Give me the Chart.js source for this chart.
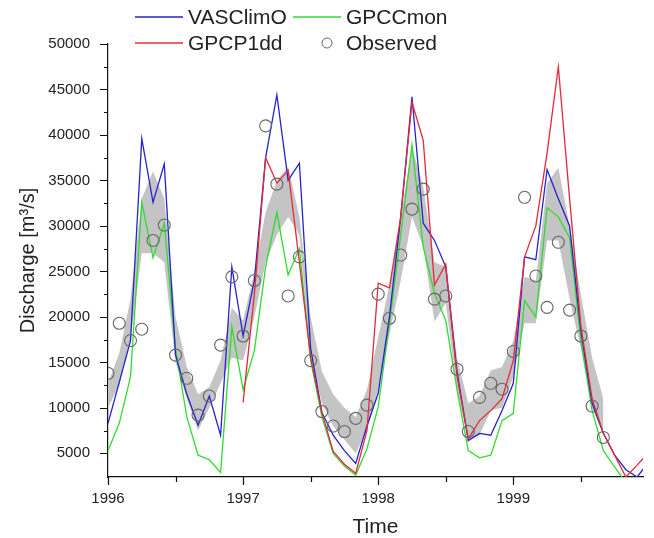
<!DOCTYPE html>
<html>
<head>
<meta charset="utf-8">
<script src="https://cdn.jsdelivr.net/npm/chart.js@4.4.1/dist/chart.umd.min.js"></script>
<style>
  html, body { margin: 0; padding: 0; background: #fff; }
</style>
</head>
<body>
<canvas id="chartCanvas" width="654" height="538"></canvas>
<script>
// monthly time steps, Jan 1996 .. Jan 2000
const startYear = 1996;
const monthCount = 49;
const times = [];
for (let i = 0; i < monthCount; i++) times.push(startYear + i / 12);

// discharge series [m3/s]
const vasclimo = [
  8300, 12800, 17400, 39600, 32600, 36800, 15800, 11500, 8100, 11300, 7000, 25500,
  17900, 24000, 37500, 44400, 35000, 36900, 16500, 9500, 7000, 5300, 3900, 8000,
  11600, 20000, 31000, 44200, 30300, 28400, 25500, 14000, 6400, 7200, 7000, 9700,
  12700, 26600, 26300, 36200, 33000, 30000, 18500, 10500, 7200, 4800, 3200, 2400, 4000
];
const gpccmon = [
  5300, 8300, 13400, 32600, 26500, 30300, 16500, 9000, 4800, 4300, 2900, 18900,
  12000, 16300, 25500, 31500, 24600, 27500, 15200, 9000, 5000, 3600, 2600, 5500,
  10100, 19300, 29000, 38900, 27700, 22600, 19600, 12000, 5300, 4500, 4800, 8600,
  9400, 21800, 20000, 32000, 31000, 28700, 17500, 9700, 5300, 3500, 1800, 1800, 2300
];
const gpcp1dd = [
  null, null, null, null, null, null, null, null, null, null, null, null,
  10600, 22500, 37500, 34700, 36100, 26000, 15500, 9500, 5200, 3800, 2800, 7500,
  23700, 23200, 31000, 43600, 39400, 23500, 25800, 13500, 6600, 8600, 9700, 11000,
  15200, 26600, 30000, 38000, 47500, 33000, 19000, 11000, 7200, 4800, 2400, 3700, 5100
];
const observed = [
  13800, 19300, 17400, 18650, 28400, 30100, 15800, 13250, 9200, 11300, 16900, 24400,
  17900, 24000, 41000, 34600, 22300, 26600, 15200, 9600, 8000, 7400, 8850, 10300,
  22500, 19850, 26800, 31850, 34050, 21950, 22300, 14250, 7400, 11150, 12700, 12050,
  16200, 33150, 24500, 21050, 28200, 20750, 17900, 10200, 6750
];
// grey uncertainty band
const bandLower = [
  10000, 12500, 17500, 27000, 27000, 26000, 15000, 11000, 7500, 10000, 12700, 15500,
  15200, 20000, 26000, 29000, 31000, 29000, 15500, 10500, 8000, 6500, 5000, 7500,
  12000, 18000, 24000, 31000, 27700, 19500, 21500, 12000, 6500, 7000, 9700, 10000,
  13400, 19300, 19300, 28400, 28400, 22000, 16500, 10000, 7000
];
const bandUpper = [
  12700, 16000, 22000, 33000, 36000, 33000, 20000, 14500, 11500, 12300, 15200, 21000,
  19600, 25000, 31500, 35000, 36500, 31000, 20000, 14000, 11500, 10000, 9000, 12000,
  17800, 23500, 31000, 38700, 34300, 26000, 25500, 15500, 10500, 11300, 14100, 14500,
  17400, 24400, 24000, 34700, 36400, 30000, 22500, 15500, 11000
];

// axis ticks
const xMajorTicks = [1996, 1997, 1998, 1999];
const xMinorTicks = [1996.5, 1997.5, 1998.5, 1999.5];
const yMajorTicks = [5000, 10000, 15000, 20000, 25000, 30000, 35000, 40000, 45000, 50000];
const yMinorTicks = [7500, 12500, 17500, 22500, 27500, 32500, 37500, 42500, 47500];

function toPoints(values) {
  return times.map((t, i) => ({ x: t, y: values[i] === undefined ? null : values[i] }));
}

const FONT = "'Liberation Sans', Arial, sans-serif";

// draw the small tick marks on both axes (major + minor)
const tickMarks = {
  id: 'tickMarks',
  afterDraw(chart) {
    const { ctx, chartArea, scales: { x, y } } = chart;
    ctx.save();
    ctx.strokeStyle = '#111';
    ctx.lineWidth = 1.2;
    ctx.beginPath();
    yMajorTicks.forEach(v => {
      const py = Math.round(y.getPixelForValue(v)) + 0.5;
      ctx.moveTo(chartArea.left - 8, py); ctx.lineTo(chartArea.left, py);
    });
    yMinorTicks.forEach(v => {
      const py = Math.round(y.getPixelForValue(v)) + 0.5;
      ctx.moveTo(chartArea.left - 4, py); ctx.lineTo(chartArea.left, py);
    });
    xMajorTicks.forEach(v => {
      const px = Math.round(x.getPixelForValue(v)) + 0.5;
      ctx.moveTo(px, chartArea.bottom); ctx.lineTo(px, chartArea.bottom + 8);
    });
    xMinorTicks.forEach(v => {
      const px = Math.round(x.getPixelForValue(v)) + 0.5;
      ctx.moveTo(px, chartArea.bottom); ctx.lineTo(px, chartArea.bottom + 5);
    });
    ctx.stroke();
    ctx.restore();
  }
};

// two-row legend at the top
const cornerLegend = {
  id: 'cornerLegend',
  afterDraw(chart) {
    const ctx = chart.ctx;
    const slots = { 'VASClimO': [135, 17], 'GPCCmon': [293, 17], 'GPCP1dd': [135, 43], 'Observed': [293, 43] };
    ctx.save();
    ctx.font = '21px ' + FONT;
    ctx.textBaseline = 'middle';
    ctx.textAlign = 'left';
    chart.data.datasets.forEach(ds => {
      const slot = slots[ds.label];
      if (!slot) return;
      const [lx, ly] = slot;
      if (ds.showLine === false) {
        ctx.beginPath();
        ctx.arc(lx + 34, ly, 5, 0, Math.PI * 2);
        ctx.strokeStyle = ds.borderColor;
        ctx.lineWidth = 1;
        ctx.stroke();
      } else {
        ctx.beginPath();
        ctx.moveTo(lx, ly); ctx.lineTo(lx + 48, ly);
        ctx.strokeStyle = ds.borderColor;
        ctx.lineWidth = 1.3;
        ctx.stroke();
      }
      ctx.fillStyle = '#222';
      ctx.fillText(ds.label, lx + 53, ly + 1);
    });
    ctx.restore();
  }
};

const ctx = document.getElementById('chartCanvas').getContext('2d');
new Chart(ctx, {
  type: 'line',
  data: {
    datasets: [
      {
        label: 'Observed',
        data: toPoints(observed),
        showLine: false,
        pointStyle: 'circle',
        pointRadius: 6,
        pointBorderWidth: 1.1,
        borderColor: '#666',
        pointBorderColor: '#666',
        pointBackgroundColor: 'rgba(255,255,255,0)'
      },
      {
        label: 'GPCP1dd',
        data: toPoints(gpcp1dd),
        borderColor: '#e8283a',
        borderWidth: 1.3,
        pointRadius: 0,
        tension: 0
      },
      {
        label: 'VASClimO',
        data: toPoints(vasclimo),
        borderColor: '#2323cf',
        borderWidth: 1.3,
        pointRadius: 0,
        tension: 0
      },
      {
        label: 'GPCCmon',
        data: toPoints(gpccmon),
        borderColor: '#2edc2e',
        borderWidth: 1.3,
        pointRadius: 0,
        tension: 0
      },
      {
        label: 'band upper',
        data: toPoints(bandUpper),
        borderWidth: 0,
        borderColor: 'rgba(0,0,0,0)',
        backgroundColor: '#c4c4c4',
        pointRadius: 0,
        fill: '+1',
        tension: 0
      },
      {
        label: 'band lower',
        data: toPoints(bandLower),
        borderWidth: 0,
        borderColor: 'rgba(0,0,0,0)',
        pointRadius: 0,
        fill: false,
        tension: 0
      }
    ]
  },
  options: {
    responsive: false,
    animation: false,
    devicePixelRatio: 1,
    layout: { padding: { left: 0, top: 44, right: 11, bottom: 0 } },
    plugins: {
      legend: { display: false },
      tooltip: { enabled: false }
    },
    scales: {
      x: {
        type: 'linear',
        min: 1996,
        max: 1999.96,
        grid: { display: false, drawTicks: false },
        border: { display: true, color: '#111', width: 1.2 },
        afterBuildTicks: scale => { scale.ticks = xMajorTicks.map(v => ({ value: v })); },
        afterFit: scale => { scale.height = 61; },
        ticks: {
          padding: 13,
          color: '#222',
          font: { family: FONT, size: 15 },
          maxRotation: 0,
          callback: v => String(v)
        },
        title: {
          display: true,
          text: 'Time',
          color: '#222',
          font: { family: FONT, size: 21, lineHeight: 1 },
          padding: { top: 0, bottom: 0 }
        }
      },
      y: {
        min: 2400,
        max: 50000,
        grid: { display: false, drawTicks: false },
        border: { display: true, color: '#111', width: 1.2 },
        afterBuildTicks: scale => { scale.ticks = yMajorTicks.map(v => ({ value: v })); },
        afterFit: scale => { scale.width = 108; },
        ticks: {
          padding: 18,
          color: '#222',
          font: { family: FONT, size: 15 },
          callback: v => String(v)
        },
        title: {
          display: true,
          text: 'Discharge [m³/s]',
          color: '#222',
          font: { family: FONT, size: 20 },
          padding: { top: 16, bottom: 0 }
        }
      }
    }
  },
  plugins: [tickMarks, cornerLegend]
});
</script>
</body>
</html>
